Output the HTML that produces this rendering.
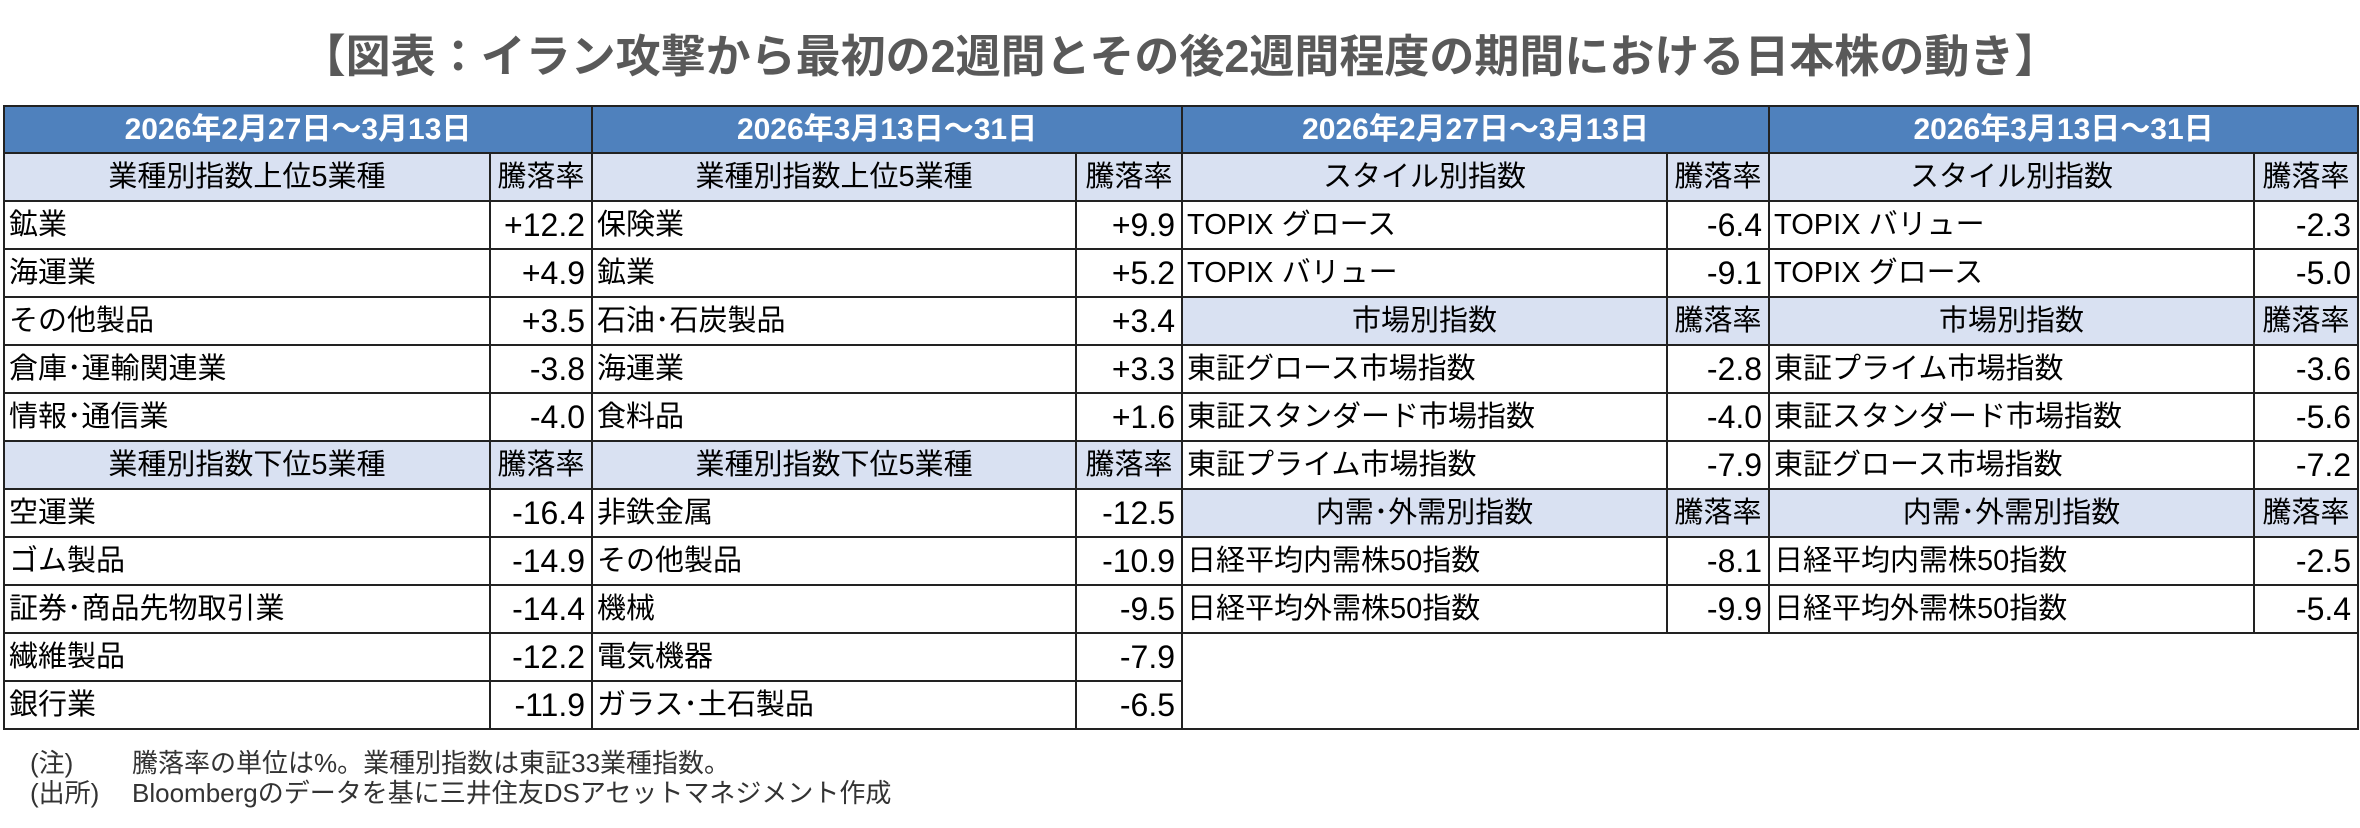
<!DOCTYPE html>
<html><head><meta charset="utf-8">
<style>
body{margin:0;width:2360px;height:828px;background:#fff;font-family:"Liberation Sans","Noto Sans CJK JP",sans-serif;color:#000;overflow:hidden;position:relative}
.title{position:absolute;top:28px;left:0;width:2360px;text-align:center;font-size:45px;font-weight:bold;color:#595959;line-height:58px}
table{position:absolute;left:3px;top:105px;border-collapse:collapse;table-layout:fixed;width:2354px}
tr{height:48px}
td{border:2px solid #222;font-size:29px;padding:0 4px;line-height:40px;white-space:nowrap;overflow:hidden}
tr.h{height:47px}
tr.h td{background:#4f81bd;color:#fff;font-weight:bold;text-align:center;font-size:30px}
td.s{background:#d9e1f2;text-align:center}
td.v{text-align:right;padding-right:6px;font-size:32px}
td.s.v2{font-size:29px}
.notes{position:absolute;font-size:26px;color:#333;line-height:30px;white-space:nowrap}
</style></head><body>
<div class="title">【図表：イラン攻撃から最初の2週間とその後2週間程度の期間における日本株の動き】</div>
<table>
<colgroup><col style="width:486px"><col style="width:102px"><col style="width:484px"><col style="width:106px"><col style="width:485px"><col style="width:102px"><col style="width:485px"><col style="width:104px"></colgroup>
<tr class="h"><td colspan="2">2026年2月27日～3月13日</td><td colspan="2">2026年3月13日～31日</td><td colspan="2">2026年2月27日～3月13日</td><td colspan="2">2026年3月13日～31日</td></tr>
<tr><td class="s">業種別指数上位5業種</td><td class="s">騰落率</td><td class="s">業種別指数上位5業種</td><td class="s">騰落率</td><td class="s">スタイル別指数</td><td class="s">騰落率</td><td class="s">スタイル別指数</td><td class="s">騰落率</td></tr>
<tr><td>鉱業</td><td class="v">+12.2</td><td>保険業</td><td class="v">+9.9</td><td>TOPIX グロース</td><td class="v">-6.4</td><td>TOPIX バリュー</td><td class="v">-2.3</td></tr>
<tr><td>海運業</td><td class="v">+4.9</td><td>鉱業</td><td class="v">+5.2</td><td>TOPIX バリュー</td><td class="v">-9.1</td><td>TOPIX グロース</td><td class="v">-5.0</td></tr>
<tr><td>その他製品</td><td class="v">+3.5</td><td>石油･石炭製品</td><td class="v">+3.4</td><td class="s">市場別指数</td><td class="s">騰落率</td><td class="s">市場別指数</td><td class="s">騰落率</td></tr>
<tr><td>倉庫･運輸関連業</td><td class="v">-3.8</td><td>海運業</td><td class="v">+3.3</td><td>東証グロース市場指数</td><td class="v">-2.8</td><td>東証プライム市場指数</td><td class="v">-3.6</td></tr>
<tr><td>情報･通信業</td><td class="v">-4.0</td><td>食料品</td><td class="v">+1.6</td><td>東証スタンダード市場指数</td><td class="v">-4.0</td><td>東証スタンダード市場指数</td><td class="v">-5.6</td></tr>
<tr><td class="s">業種別指数下位5業種</td><td class="s">騰落率</td><td class="s">業種別指数下位5業種</td><td class="s">騰落率</td><td>東証プライム市場指数</td><td class="v">-7.9</td><td>東証グロース市場指数</td><td class="v">-7.2</td></tr>
<tr><td>空運業</td><td class="v">-16.4</td><td>非鉄金属</td><td class="v">-12.5</td><td class="s">内需･外需別指数</td><td class="s">騰落率</td><td class="s">内需･外需別指数</td><td class="s">騰落率</td></tr>
<tr><td>ゴム製品</td><td class="v">-14.9</td><td>その他製品</td><td class="v">-10.9</td><td>日経平均内需株50指数</td><td class="v">-8.1</td><td>日経平均内需株50指数</td><td class="v">-2.5</td></tr>
<tr><td>証券･商品先物取引業</td><td class="v">-14.4</td><td>機械</td><td class="v">-9.5</td><td>日経平均外需株50指数</td><td class="v">-9.9</td><td>日経平均外需株50指数</td><td class="v">-5.4</td></tr>
<tr><td>繊維製品</td><td class="v">-12.2</td><td>電気機器</td><td class="v">-7.9</td><td colspan="4" rowspan="2" style="background:#fff"></td></tr>
<tr><td>銀行業</td><td class="v">-11.9</td><td>ガラス･土石製品</td><td class="v">-6.5</td></tr>
</table>
<div class="notes" style="top:748px;left:30px">(注)</div>
<div class="notes" style="top:748px;left:132px">騰落率の単位は%。業種別指数は東証33業種指数。</div>
<div class="notes" style="top:778px;left:30px">(出所)</div>
<div class="notes" style="top:778px;left:132px">Bloombergのデータを基に三井住友DSアセットマネジメント作成</div>
</body></html>
